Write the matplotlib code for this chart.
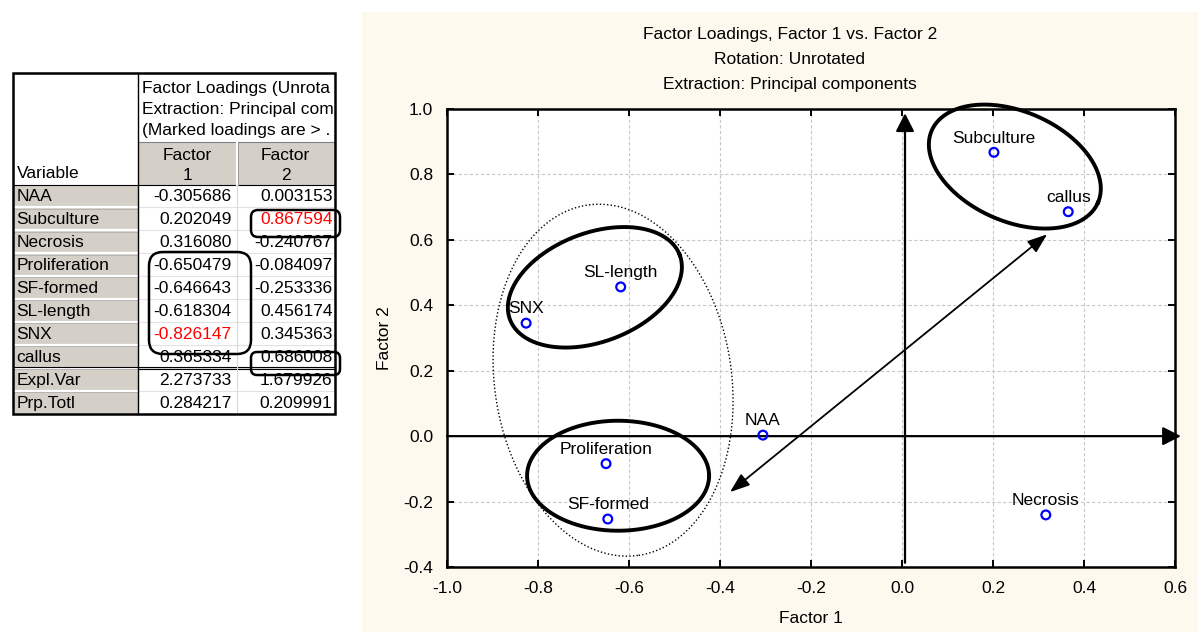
import matplotlib
matplotlib.use('Agg')
import matplotlib.pyplot as plt
from matplotlib.patches import Rectangle, FancyBboxPatch
from matplotlib.transforms import Bbox, TransformedBbox
import numpy as np

plt.rcParams['font.family'] = ['Liberation Sans', 'DejaVu Sans']
plt.rcParams['axes.unicode_minus'] = False

# data: factor loadings
variables = ['NAA', 'Subculture', 'Necrosis', 'Proliferation', 'SF-formed',
             'SL-length', 'SNX', 'callus']
factor1 = [-0.305686, 0.202049, 0.316080, -0.650479, -0.646643, -0.618304, -0.826147, 0.365334]
factor2 = [0.003153, 0.867594, -0.240767, -0.084097, -0.253336, 0.456174, 0.345363, 0.686008]
summary_rows = ['Expl.Var', 'Prp.Totl']
summary_f1 = [2.273733, 0.284217]
summary_f2 = [1.679926, 0.209991]
red_cells = [('Subculture', 2), ('SNX', 1)]

header_lines = ['Factor Loadings (Unrota', 'Extraction: Principal com', '(Marked loadings are > .']
titles = ['Factor Loadings, Factor 1 vs. Factor 2', 'Rotation: Unrotated',
          'Extraction: Principal components']
xticks = [-1.0, -0.8, -0.6, -0.4, -0.2, 0.0, 0.2, 0.4, 0.6]
yticks = [-0.4, -0.2, 0.0, 0.2, 0.4, 0.6, 0.8, 1.0]

W, H = 1198, 632
fs = 12.5
fig = plt.figure(figsize=(W / 100, H / 100), dpi=100)

# background layer in pixel coords
bg = fig.add_axes([0, 0, 1, 1])
bg.set_xlim(0, W)
bg.set_ylim(H, 0)
bg.axis('off')
bg.add_patch(Rectangle((362, 12), W - 362, H - 12, fc='#FDF9EE', ec='none'))

# ---- table ----
grey = '#D4D0C8'
x0, x1, x2, x3 = 12.5, 137.5, 236.5, 334.5
top, hsplit, hbot, rh = 73, 142, 184.5, 22.9
rows = variables + summary_rows
vals1 = factor1 + summary_f1
vals2 = factor2 + summary_f2
nrows = len(rows)
bottom = hbot + nrows * rh

bg.add_patch(Rectangle((x0, top), x3 - x0, bottom - top, fc='white', ec='none'))
bg.add_patch(Rectangle((x1, hsplit), x3 - x1, hbot - hsplit, fc=grey, ec='none'))
bg.add_patch(Rectangle((x0, hbot), x1 - x0, bottom - hbot, fc=grey, ec='none'))

for i in range(1, nrows):
    yy = hbot + i * rh
    bg.plot([x0 + 1, x1], [yy, yy], color='white', lw=1.6)
    bg.plot([x0 + 1, x1], [yy + 1.3, yy + 1.3], color='#A8A8A8', lw=0.5)
    bg.plot([x1, x3], [yy, yy], color='#E2E2E2', lw=0.8)
# double line above summary rows
yy = hbot + len(variables) * rh
bg.plot([x0, x3], [yy - 1.2, yy - 1.2], color='black', lw=0.8)
bg.plot([x1, x3], [yy + 1.5, yy + 1.5], color='black', lw=0.8)

bg.plot([x1, x3], [hsplit, hsplit], color='#808080', lw=0.8)
bg.plot([x1, x3], [hbot, hbot], color='black', lw=0.8)
bg.plot([x0, x1], [hbot, hbot], color='black', lw=0.8)
bg.plot([x1, x1], [top, bottom], color='black', lw=1.0)
bg.plot([x2, x2], [hsplit, hbot], color='white', lw=1.5)
bg.plot([x2 + 1.5, x2 + 1.5], [hsplit, hbot], color='#909090', lw=0.6)
bg.plot([x2, x2], [hbot, bottom], color='#D8D8D8', lw=0.8)
bg.add_patch(Rectangle((x0, top), x3 - x0, bottom - top, fc='none', ec='black',
                       lw=1.8, zorder=5))

clip = TransformedBbox(Bbox.from_extents(x1, top, x3, hsplit), bg.transData)
for k, line in enumerate(header_lines):
    t = bg.text(x1 + 5, 88 + k * 21.5, line, fontsize=fs, va='center', ha='left')
    t.set_clip_box(clip)
    t.set_clip_on(True)
bg.text(x0 + 4, 174, 'Variable', fontsize=fs, va='center', ha='left')
for cx, n in [((x1 + x2) / 2, '1'), ((x2 + x3) / 2, '2')]:
    bg.text(cx, 155, 'Factor', fontsize=fs, ha='center', va='center')
    bg.text(cx, 176, n, fontsize=fs, ha='center', va='center')

for i, name in enumerate(rows):
    yc = hbot + (i + 0.5) * rh + 1
    bg.text(x0 + 4, yc, name, fontsize=fs, va='center', ha='left')
    c1 = 'red' if (name, 1) in red_cells else 'black'
    c2 = 'red' if (name, 2) in red_cells else 'black'
    bg.text(x2 - 5, yc, f'{vals1[i]:.6f}', fontsize=fs, va='center', ha='right', color=c1)
    bg.text(x3 - 2, yc, f'{vals2[i]:.6f}', fontsize=fs, va='center', ha='right', color=c2)

for (bx, by, bw, bh, r) in [(251, 210, 89, 27, 7), (149, 252, 102, 102, 14),
                            (251, 352, 89, 23, 6)]:
    bg.add_patch(FancyBboxPatch((bx, by), bw, bh, boxstyle=f'round,pad=0,rounding_size={r}',
                                fc='none', ec='black', lw=1.8, zorder=6))

# ---- chart ----
for k, t in enumerate(titles):
    fig.text(790 / W, 1 - (35 + k * 25) / H, t, fontsize=fs, ha='center', va='center')

ax = fig.add_axes([447 / W, (H - 567) / H, (1175 - 447) / W, (567 - 109) / H])
ax.set_xlim(-1.0, 0.6)
ax.set_ylim(-0.4, 1.0)
ax.set_xticks(xticks)
ax.set_yticks(yticks)
ax.set_xticklabels([f'{v:.1f}' for v in xticks])
ax.set_yticklabels([f'{v:.1f}' for v in yticks])
ax.tick_params(direction='in', length=5, width=1.4, top=True, right=True,
               labelsize=fs, pad=10)
for s in ax.spines.values():
    s.set_linewidth(1.8)
ax.grid(True, color='#C8C8C8', linestyle=(0, (3, 2)), lw=0.8)
ax.set_axisbelow(True)
ax.set_xlabel('Factor 1', fontsize=fs, labelpad=11)
ax.set_ylabel('Factor 2', fontsize=fs, labelpad=8)

ax.scatter(factor1, factor2, s=40, facecolors='none', edgecolors='#0000FF',
           linewidths=1.6, zorder=6)
for name, x, y in zip(variables, factor1, factor2):
    ax.annotate(name, (x, y), xytext=(0, 7), textcoords='offset points',
                ha='center', va='baseline', fontsize=fs, zorder=7)

# axis arrows
ax.annotate('', xy=(0.613, 0), xytext=(-1.0, 0), annotation_clip=False,
            arrowprops=dict(arrowstyle='-|>,head_length=0.55,head_width=0.28', color='black',
                            lw=1.6, mutation_scale=20, shrinkA=0, shrinkB=0))
ax.annotate('', xy=(0.0066, 0.987), xytext=(0.0066, -0.387), annotation_clip=False,
            arrowprops=dict(arrowstyle='-|>,head_length=0.55,head_width=0.28', color='black',
                            lw=1.6, mutation_scale=20, shrinkA=0, shrinkB=0))
ax.annotate('', xy=(0.319, 0.617), xytext=(-0.378, -0.171), annotation_clip=False,
            arrowprops=dict(arrowstyle='<|-|>,head_length=0.6,head_width=0.22', color='black',
                            lw=1.3, mutation_scale=20, shrinkA=0, shrinkB=0))

# group ellipses (semi-axes in pixels, angle in degrees)
pos = ax.get_position()
sx = pos.width * W / 1.6
sy = pos.height * H / 1.4


def ellipse_xy(cx, cy, a, b, ang):
    t = np.linspace(0, 2 * np.pi, 300)
    th = np.deg2rad(ang)
    dx = a * np.cos(t) * np.cos(th) - b * np.sin(t) * np.sin(th)
    dy = a * np.cos(t) * np.sin(th) + b * np.sin(t) * np.cos(th)
    return cx + dx / sx, cy + dy / sy


for (cx, cy, a, b, ang) in [(0.248, 0.824, 90.6, 55, -23.4),
                            (-0.675, 0.455, 90.8, 54.4, 20.9),
                            (-0.624, -0.121, 91, 55, 0)]:
    ex, ey = ellipse_xy(cx, cy, a, b, ang)
    ax.plot(ex, ey, color='black', lw=2.8, clip_on=False, zorder=4)

ex, ey = ellipse_xy(-0.635, 0.171, 177, 118.5, -81.7)
ax.plot(ex, ey, color='black', lw=1.0, linestyle=(0, (1, 1.6)), zorder=4)

fig.savefig('out.png', dpi=100)
